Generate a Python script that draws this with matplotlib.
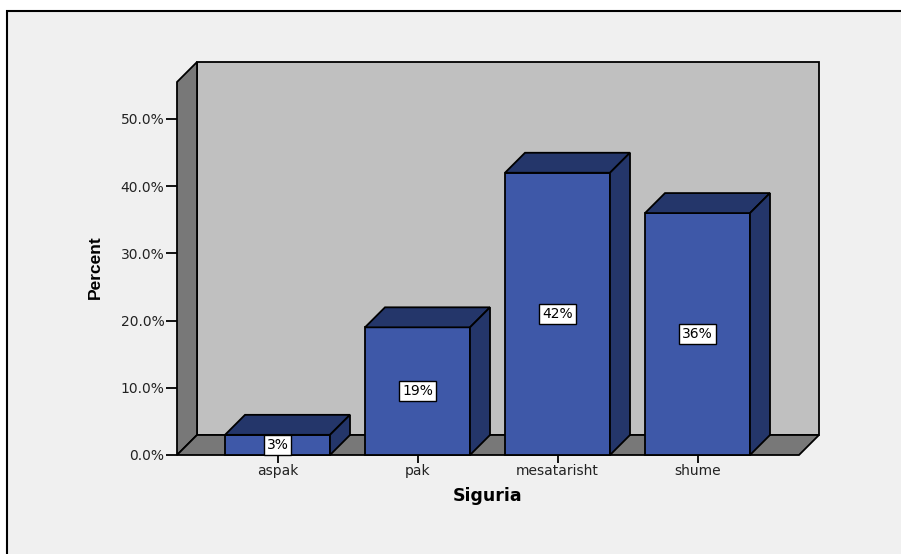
import matplotlib.pyplot as plt
from matplotlib.patches import Polygon, Rectangle

# frequency table for "Siguria"
categories = ["aspak", "pak", "mesatarisht", "shume"]
percents = [3, 19, 42, 36]
bar_labels = ["3%", "19%", "42%", "36%"]
yticks = [0, 10, 20, 30, 40, 50]
ytick_labels = ["0.0%", "10.0%", "20.0%", "30.0%", "40.0%", "50.0%"]

W, H = 901, 554
fig = plt.figure(figsize=(W / 100, H / 100), dpi=100)
fig.patch.set_facecolor("white")

# grey panel with a black frame (runs off the right and bottom edges)
fig.patches.append(Rectangle((7 / W, -0.05), 1.05, 1.05 - 11 / H,
                             transform=fig.transFigure, facecolor="#f0f0f0",
                             edgecolor="black", linewidth=1.5, zorder=-10))

# front plane of the 3D box: x 177..799 px, y 82..455 px
left, right, top, bottom = 177, 799, 82, 455
ax = fig.add_axes([left / W, (H - bottom) / H, (right - left) / W, (bottom - top) / H])
ax.set_facecolor("none")
px_y = 6.72           # pixels per percent
px_x = 140.0          # pixels per category
ymax = (bottom - top) / px_y
x0 = (left - 277.5) / px_x
x1 = (right - 277.5) / px_x
ax.set_xlim(x0, x1)
ax.set_ylim(0, ymax)

DX = 20 / px_x
DY = 20 / px_y
wall = "#787878"
back = "#c0c0c0"
front_c = "#3e58a8"
dark_c = "#24366a"
lw = 1.3


def poly(pts, color, z):
    ax.add_patch(Polygon(pts, closed=True, facecolor=color, edgecolor="black",
                         linewidth=lw, clip_on=False, zorder=z, joinstyle="miter"))


# walls and floor
poly([(x0 + DX, DY), (x1 + DX, DY), (x1 + DX, ymax + DY), (x0 + DX, ymax + DY)], back, 1)
poly([(x0, 0), (x0, ymax), (x0 + DX, ymax + DY), (x0 + DX, DY)], wall, 2)
poly([(x0, 0), (x1, 0), (x1 + DX, DY), (x0 + DX, DY)], wall, 2)

# bars
hw = 0.375
for i, (v, lab) in enumerate(zip(percents, bar_labels)):
    l, r = i - hw, i + hw
    poly([(l, 0), (r, 0), (r, v), (l, v)], front_c, 3)
    poly([(l, v), (r, v), (r + DX, v + DY), (l + DX, v + DY)], dark_c, 3)
    poly([(r, 0), (r + DX, DY), (r + DX, v + DY), (r, v)], dark_c, 3)
    ax.text(i, v / 2, lab, ha="center", va="center", fontsize=10,
            family="DejaVu Sans", zorder=5,
            bbox=dict(boxstyle="square,pad=0.2", facecolor="white",
                      edgecolor="black", linewidth=1))

for s in ax.spines.values():
    s.set_visible(False)

ax.set_yticks(yticks)
ax.set_yticklabels(ytick_labels, fontsize=10, family="DejaVu Sans", color="#222222")
ax.tick_params(axis="y", length=8, width=1.3, pad=1, color="black")
ax.set_xticks(range(len(categories)))
ax.set_xticklabels(categories, fontsize=10, family="DejaVu Sans", color="#222222")
ax.tick_params(axis="x", length=5.5, width=1.3, pad=1, color="black")

fig.text(95 / W, 1 - 267 / H, "Percent", rotation=90, ha="center", va="center",
         fontsize=12.5, fontweight="bold",
         family=["Liberation Sans Narrow", "Liberation Sans"])
fig.text(488 / W, 1 - 496 / H, "Siguria", ha="center", va="center",
         fontsize=12.5, fontweight="bold", family="DejaVu Sans")

fig.savefig("out.png", dpi=100, facecolor="white")
